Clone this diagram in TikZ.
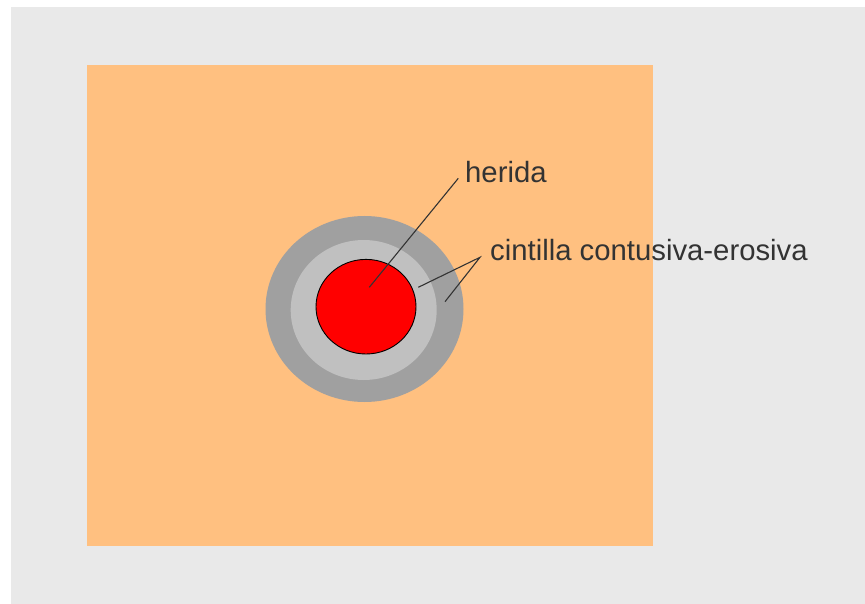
\documentclass[tikz,border=0pt]{standalone}
\usepackage{fontspec}
\setmainfont{Liberation Sans}
\definecolor{bggray}{HTML}{E9E9E9}
\definecolor{skin}{HTML}{FFC080}
\definecolor{ringdark}{HTML}{A0A0A0}
\definecolor{ringlight}{HTML}{C0C0C0}
\definecolor{inkgray}{HTML}{333333}
\begin{document}
\begin{tikzpicture}[x=1pt,y=-1pt,
  lbl/.style={font=\fontsize{29.3}{35}\selectfont, text=inkgray, inner sep=0pt, anchor=base west},
  leader/.style={draw=inkgray, line width=1.1pt}]
\useasboundingbox (0,0) rectangle (865,604);
\fill[white] (0,0) rectangle (865,604);
\fill[bggray] (11,7) rectangle (865,604);
\fill[skin] (86.5,65) rectangle (652.5,546);
\fill[ringdark] (364.5,309) ellipse [x radius=99, y radius=93];
\fill[ringlight] (363.7,310) ellipse [x radius=73, y radius=70];
\draw[fill=red, line width=0.9pt] (366,306.7) ellipse [x radius=50, y radius=47.3];
\node[lbl] (herida) at (465,182.3) {herida};
\node[lbl] (cintilla) at (490,261) {cintilla contusiva-erosiva};
\coordinate (hTop) at (458.3,178.3);
\coordinate (hEnd) at (369.3,287.3);
\coordinate (cJoin) at (480,257.3);
\coordinate (cInner) at (418.3,287.3);
\coordinate (cOuter) at (445,301.7);
\draw[leader] (hTop) -- (hEnd);
\draw[leader] (cInner) -- (cJoin) -- (cOuter);
\end{tikzpicture}
\end{document}
